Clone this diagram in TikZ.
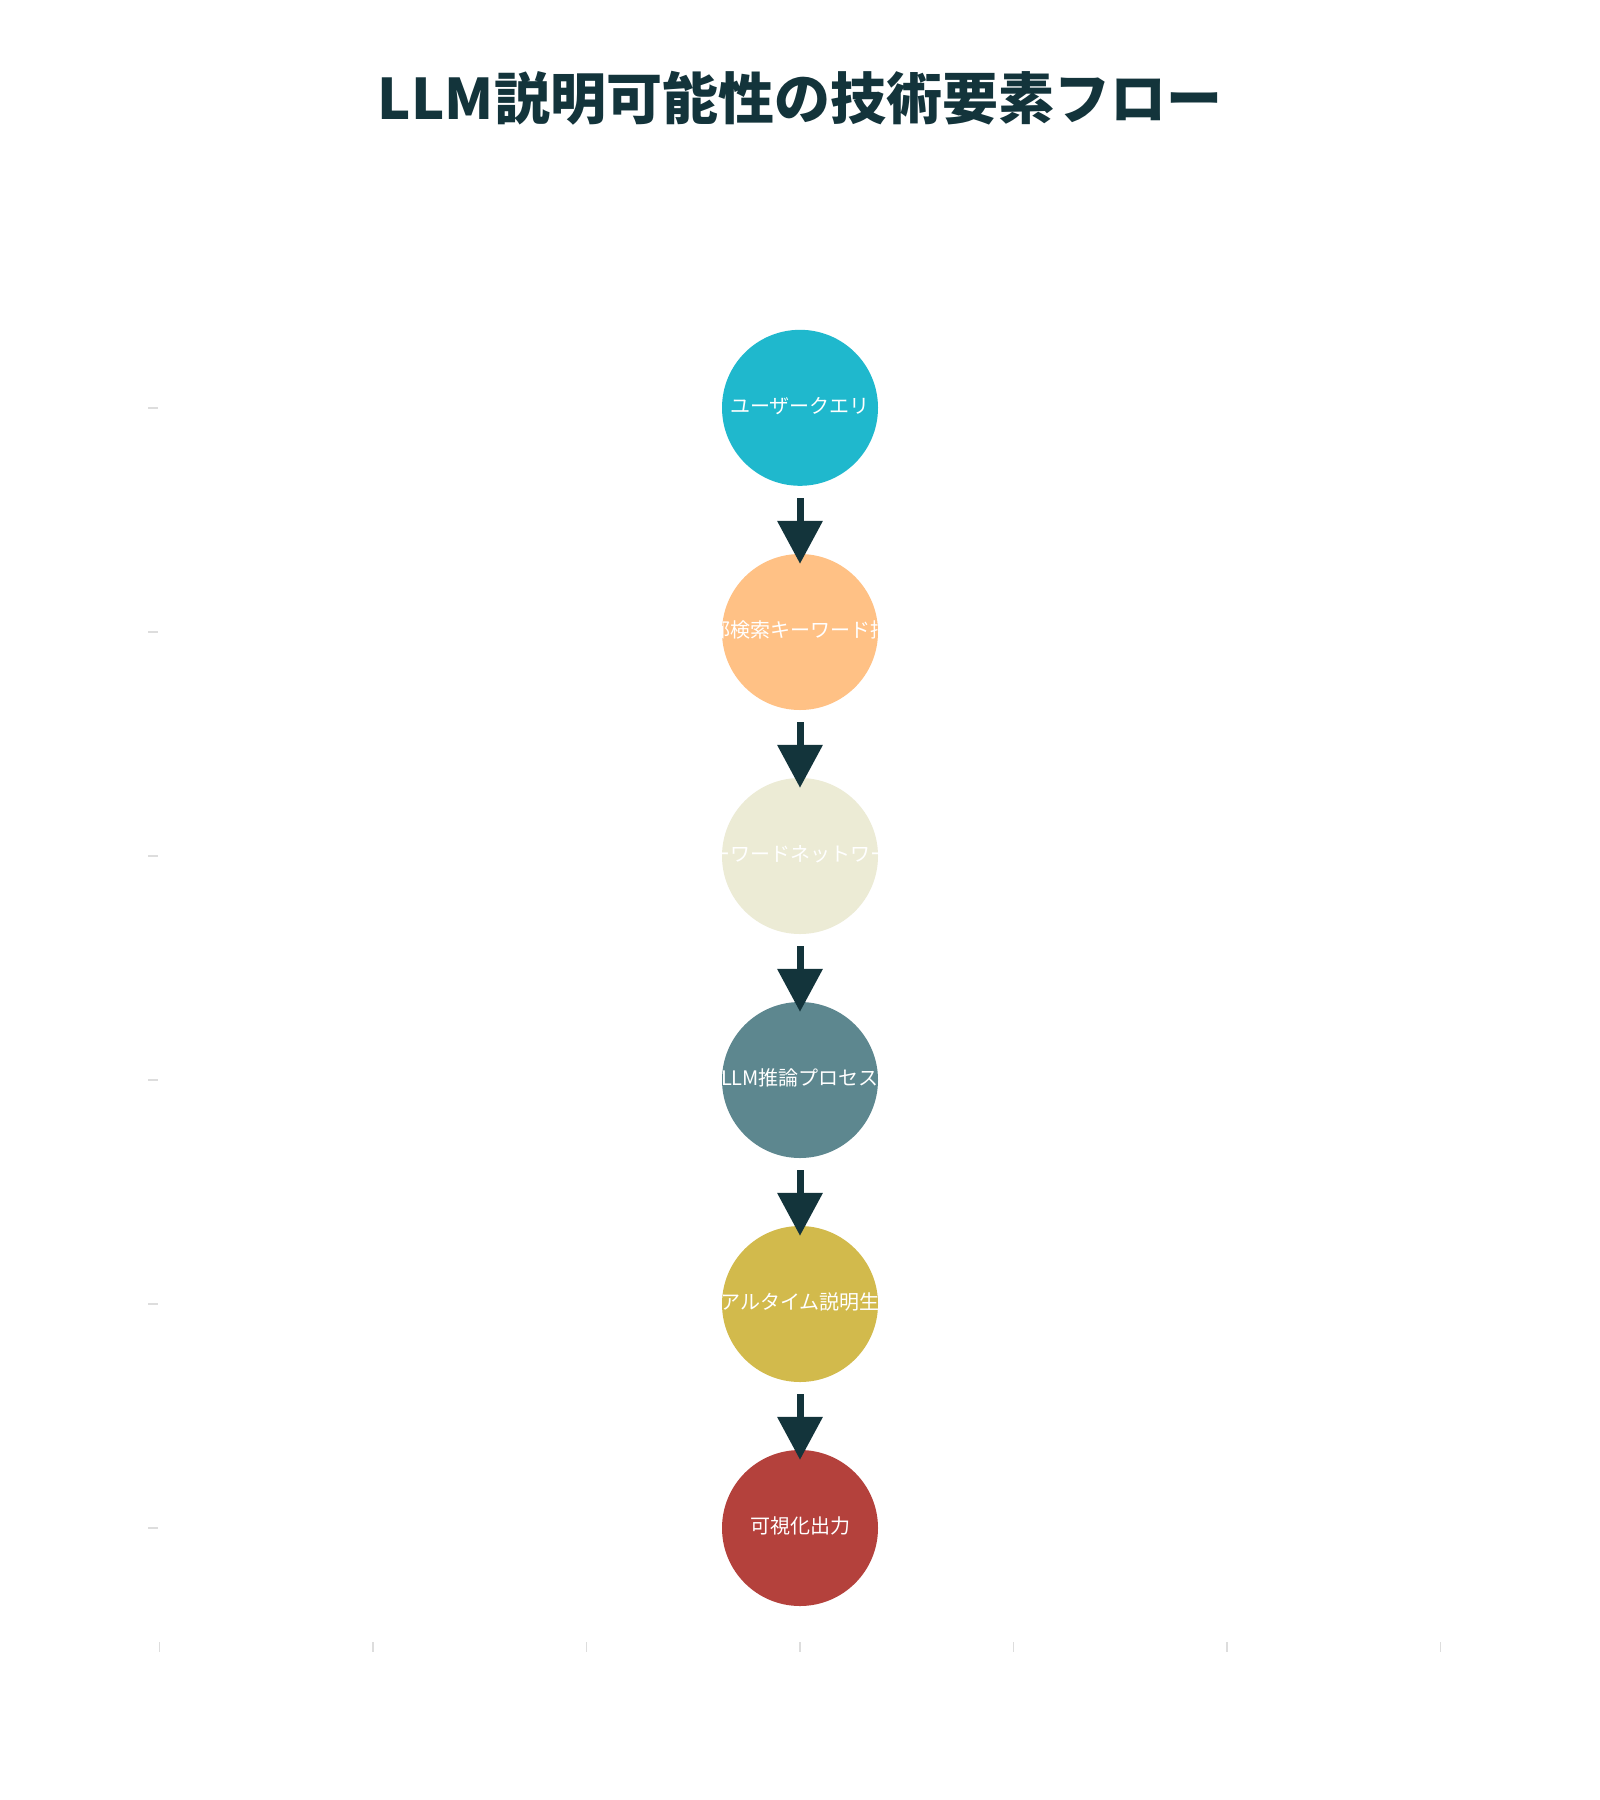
\documentclass[tikz,border=0pt]{standalone}
\usepackage{fontspec}
\setmainfont{Noto Sans CJK JP}
\usetikzlibrary{arrows.meta}
\definecolor{cA}{HTML}{1FB8CD}
\definecolor{cB}{HTML}{FFC185}
\definecolor{cC}{HTML}{ECEBD5}
\definecolor{cD}{HTML}{5D878F}
\definecolor{cE}{HTML}{D2BA4C}
\definecolor{cF}{HTML}{B4413C}
\definecolor{titlec}{HTML}{13343B}
\definecolor{tickc}{HTML}{DDDDDD}
\tikzset{
  stage/.style 2 args={circle, minimum size=156pt, inner sep=0pt, fill=#1,
    path picture={\node[text=white, font=\fontsize{20}{23}\selectfont, inner sep=0pt]
      at ([yshift=2pt]path picture bounding box.center) {#2};}},
  flow/.style={draw=titlec, line width=7pt, -{Triangle[width=44pt,length=43pt]}},
  tick/.style={draw=tickc, line width=1.5pt}
}
\begin{document}
\begin{tikzpicture}[x=1pt,y=-1pt]
\useasboundingbox (0,0) rectangle (1600,1800);
\fill[white] (0,0) rectangle (1600,1800);
\node[text=titlec, font=\fontsize{56}{62}\bfseries] (title) at (800,98) {LLM説明可能性の技術要素フロー};
\node[stage={cA}{ユーザークエリ}] (n1) at (800,407.8) {};
\node[stage={cB}{外部検索キーワード抽出}] (n2) at (800,632) {};
\node[stage={cC}{キーワードネットワーク}] (n3) at (800,856) {};
\node[stage={cD}{LLM推論プロセス}] (n4) at (800,1080) {};
\node[stage={cE}{リアルタイム説明生成}] (n5) at (800,1304) {};
\node[stage={cF}{可視化出力}] (n6) at (800,1528) {};
\foreach \a/\b in {n1/n2,n2/n3,n3/n4,n4/n5,n5/n6}
  \draw[flow] ([yshift=-12pt]\a.south) -- ([yshift=-10pt]\b.north);
\foreach \yy in {407.8,632,856,1080,1304,1528}
  \draw[tick] (148,\yy) -- (158,\yy);
\foreach \k in {0,...,6}
  \draw[tick] (159.5+213.5*\k,1642) -- (159.5+213.5*\k,1652);
\end{tikzpicture}
\end{document}
